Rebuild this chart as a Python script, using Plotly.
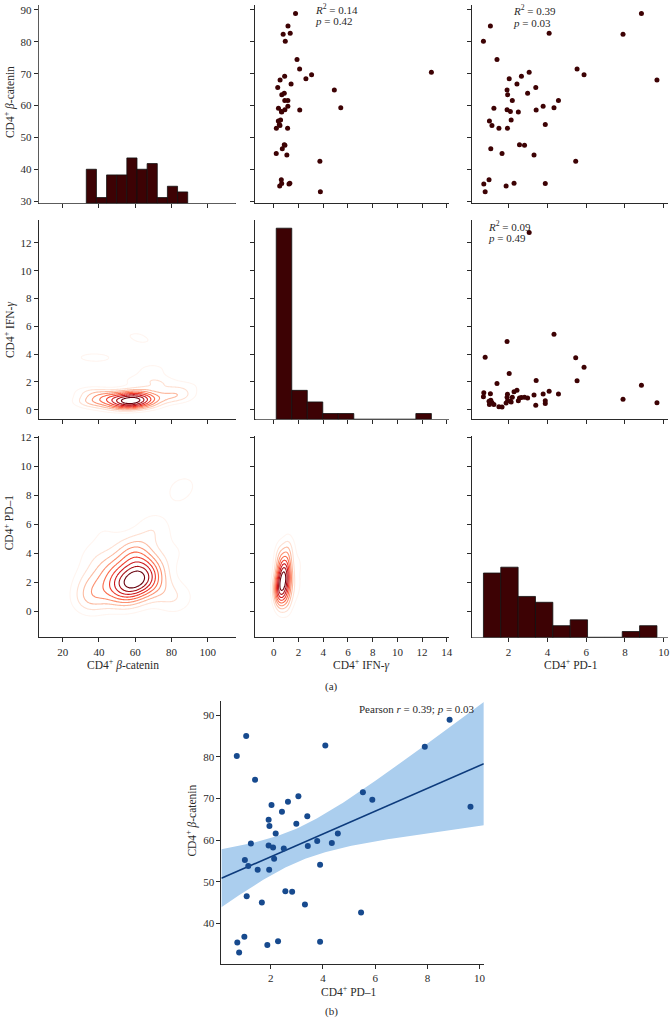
import numpy as np
import plotly.graph_objects as go

W, H = 672, 1022

# one entry per subject (44)
beta_catenin = [80.2, 85.0, 74.5, 82.7, 82.4, 88.9, 68.0, 71.5, 69.7, 68.4,
                69.2, 70.5, 66.8, 64.9, 63.4, 63.9, 65.7, 61.6, 61.6, 59.2,
                58.7, 58.2, 58.0, 58.6, 59.8, 59.3, 55.2, 53.8, 52.9, 52.9,
                55.5, 54.1, 46.5, 45.0, 47.7, 47.6, 44.5, 42.6, 35.4, 33.0,
                36.8, 34.8, 35.7, 35.6]
ifn_gamma = [0.93, 1.15, 1.88, 1.33, 0.76, 1.76, 0.51, 2.09, 3.06, 2.60,
             0.88, 12.75, 1.40, 4.90, 0.65, 0.85, 0.32, 0.89, 1.14, 0.38,
             0.90, 0.62, 0.64, 2.10, 1.14, 5.42, 0.37, 0.50, 0.21, 1.12,
             0.55, 0.45, 0.69, 0.20, 0.85, 0.90, 1.06, 3.73, 1.23, 3.77,
             0.61, 0.48, 1.30, 0.64]
pd1 = [0.70, 1.06, 1.40, 4.09, 7.90, 8.85, 9.65, 5.53, 5.89, 2.03,
       2.66, 3.06, 2.43, 1.92, 1.95, 2.98, 3.40, 2.19, 4.57, 1.24,
       1.92, 2.09, 2.50, 3.42, 3.78, 4.34, 1.01, 1.14, 1.50, 1.94,
       2.13, 3.89, 1.08, 1.66, 2.56, 2.82, 3.31, 5.46, 0.72, 0.79,
       0.99, 1.87, 2.28, 3.89]

var_labels = ["CD4<sup>+</sup> <i>β</i>-catenin", "CD4<sup>+</sup> IFN-<i>γ</i>", "CD4<sup>+</sup> PD-1"]
row_labels = ["CD4<sup>+</sup> <i>β</i>-catenin", "CD4<sup>+</sup> IFN-<i>γ</i>", "CD4<sup>+</sup> PD–1"]
r2_text = ["0.14", "0.39", "0.09"]
p_text = ["0.42", "0.03", "0.49"]
pearson_text = "Pearson <i>r</i> = 0.39; <i>p</i> = 0.03"

FONT = "Liberation Serif"
INK = "#2a2a2a"
MAROON = "#3d0204"

variables = [beta_catenin, ifn_gamma, pd1]

# pixel geometry of the grid
col_px = [(39, 237), (257, 452), (475, 672)]
row_px = [(0, 200), (217, 418), (435, 638)]
col_range = [[6.8, 115.3], [-1.48, 14.2], [0.12, 10.22]]
row_range = [[29.4, 91.55], [-0.69, 13.64], [-1.8, 12.07]]
col_ticks = [[20, 40, 60, 80, 100], list(range(0, 15, 2)), [2, 4, 6, 8, 10]]
row_ticks = [list(range(30, 91, 10)), list(range(0, 13, 2)), list(range(0, 13, 2))]
count_range = [35.0, 34.4, 34.4]


def xd(a, b):
    return [a / W, b / W]


def yd(a, b):
    return [1 - b / H, 1 - a / H]


def bw_scott(v):
    v = np.asarray(v, float)
    q75, q25 = np.percentile(v, [75, 25])
    a = min(v.std(ddof=1), (q75 - q25) / 1.349)
    return 1.059 * a * len(v) ** (-0.2)


def kde2d(x, y, xr, yr, n=180):
    x = np.asarray(x, float)
    y = np.asarray(y, float)
    bx, by = bw_scott(x), bw_scott(y)
    gx = np.linspace(xr[0], xr[1], n)
    gy = np.linspace(yr[0], yr[1], n)
    kx = np.exp(-0.5 * ((gx[None, :] - x[:, None]) / bx) ** 2) / bx
    ky = np.exp(-0.5 * ((gy[None, :] - y[:, None]) / by) ** 2) / by
    z = ky.T @ kx / (len(x) * 2 * np.pi)
    return gx, gy, z


axis_common = dict(showline=True, linecolor=INK, linewidth=1, ticks="outside",
                   ticklen=4, tickwidth=1, tickcolor=INK, showgrid=False,
                   zeroline=False, tickfont=dict(family=FONT, size=11, color=INK))

fig = go.Figure()
layout = {}

for r in range(3):
    for c in range(3):
        k = r * 3 + c + 1
        xa, ya = f"x{k}", f"y{k}"
        layout[f"xaxis{k}"] = dict(axis_common, domain=xd(*col_px[c]), range=col_range[c],
                                   anchor=ya, tickvals=col_ticks[c], showticklabels=(r == 2))
        layout[f"yaxis{k}"] = dict(axis_common, domain=yd(*row_px[r]), range=row_range[r],
                                   anchor=xa, tickvals=row_ticks[r], showticklabels=(c == 0))
        if r < c:
            fig.add_trace(go.Scatter(x=variables[c], y=variables[r], mode="markers",
                                     marker=dict(size=5, color=MAROON),
                                     xaxis=xa, yaxis=ya, showlegend=False))
        elif r == c:
            # empty trace so the panel's own axes get drawn
            fig.add_trace(go.Scatter(x=[None], y=[None], mode="markers", xaxis=xa, yaxis=ya,
                                     showlegend=False, hoverinfo="skip"))
            counts, edges = np.histogram(variables[c], bins=10)
            yo = 10 + r
            # hidden count axis sharing the panel's box
            layout[f"yaxis{yo}"] = dict(domain=yd(*row_px[r]), range=[0, count_range[r]],
                                        visible=False, anchor=xa)
            fig.add_trace(go.Bar(x=(edges[:-1] + edges[1:]) / 2, y=counts,
                                 width=np.diff(edges),
                                 marker=dict(color=MAROON, line=dict(color="#111", width=0.8)),
                                 xaxis=xa, yaxis=f"y{yo}", showlegend=False))
        else:
            gx, gy, z = kde2d(variables[c], variables[r], col_range[c], row_range[r])
            zmax = z.max()
            fig.add_trace(go.Contour(x=gx, y=gy, z=z, colorscale="Reds", zmin=0, zmax=zmax,
                                     contours=dict(coloring="lines", start=zmax / 10,
                                                   end=zmax * 0.95, size=zmax / 10),
                                     line=dict(width=1.1), showscale=False,
                                     xaxis=xa, yaxis=ya))

# panel (b): PD-1 vs beta-catenin with regression and 95% CI
bx_range = [0.11, 10.16]
by_range = [30.2, 93.5]
layout["xaxis13"] = dict(axis_common, domain=xd(222.7, 486.7), range=bx_range, anchor="y13",
                         tickvals=[2, 4, 6, 8, 10])
layout["yaxis13"] = dict(axis_common, domain=yd(701.7, 967.7), range=by_range, anchor="x13",
                         tickvals=[40, 50, 60, 70, 80, 90])

xv = np.asarray(pd1)
yv = np.asarray(beta_catenin)
n = len(xv)
slope, intercept = np.polyfit(xv, yv, 1)
resid = yv - (slope * xv + intercept)
s = np.sqrt((resid ** 2).sum() / (n - 2))
sxx = ((xv - xv.mean()) ** 2).sum()
t_crit = 2.018
xg = np.linspace(bx_range[0], bx_range[1], 120)
yg = slope * xg + intercept
se = s * np.sqrt(1 / n + (xg - xv.mean()) ** 2 / sxx)
fig.add_trace(go.Scatter(x=np.concatenate([xg, xg[::-1]]),
                         y=np.concatenate([yg + t_crit * se, (yg - t_crit * se)[::-1]]),
                         fill="toself", fillcolor="rgb(171,206,238)", line=dict(width=0),
                         mode="lines", xaxis="x13", yaxis="y13", showlegend=False))
fig.add_trace(go.Scatter(x=xg, y=yg, mode="lines", line=dict(color="#0d3b7c", width=1.6),
                         xaxis="x13", yaxis="y13", showlegend=False))
fig.add_trace(go.Scatter(x=pd1, y=beta_catenin, mode="markers",
                         marker=dict(size=6, color="#174a8e"),
                         xaxis="x13", yaxis="y13", showlegend=False))

annotations = []


def txt(text, x, y, size=11, angle=0, xanchor="center"):
    annotations.append(dict(text=text, x=x / W, y=1 - y / H, xref="paper", yref="paper",
                            showarrow=False, textangle=angle, xanchor=xanchor, yanchor="middle",
                            font=dict(family=FONT, size=size, color=INK)))


# stats in upper triangle
stat_pos = [(315, 4, 16), (514, 5, 18), (489, 223, 235)]
for (px, yr2, yp), r2, p in zip(stat_pos, r2_text, p_text):
    txt(f"<i>R</i><sup>2</sup> = {r2}", px, yr2, xanchor="left")
    txt(f"<i>p</i> = {p}", px, yp, xanchor="left")

# axis titles
for lab, yc in zip(row_labels, [98, 327, 522]):
    txt(lab, 9, yc, size=11.5, angle=-90)
for lab, xc in zip(var_labels, [124, 364, 574]):
    txt(lab, xc, 665, size=11.5)
txt("(a)", 333, 688)
txt(pearson_text, 359, 710, xanchor="left")
txt("CD4<sup>+</sup> <i>β</i>-catenin", 193, 823, size=11.5, angle=-90)
txt("CD4<sup>+</sup> PD–1", 351, 995, size=11.5)
txt("(b)", 333, 1015)

fig.update_layout(width=W, height=H, margin=dict(l=0, r=0, t=0, b=0),
                  paper_bgcolor="white", plot_bgcolor="white",
                  annotations=annotations, **layout)

# drop the browser's default 8px body margin so the figure fills the window
fig.write_html("out.html", config={"displayModeBar": False},
               post_script="document.body.style.margin='0px';")
